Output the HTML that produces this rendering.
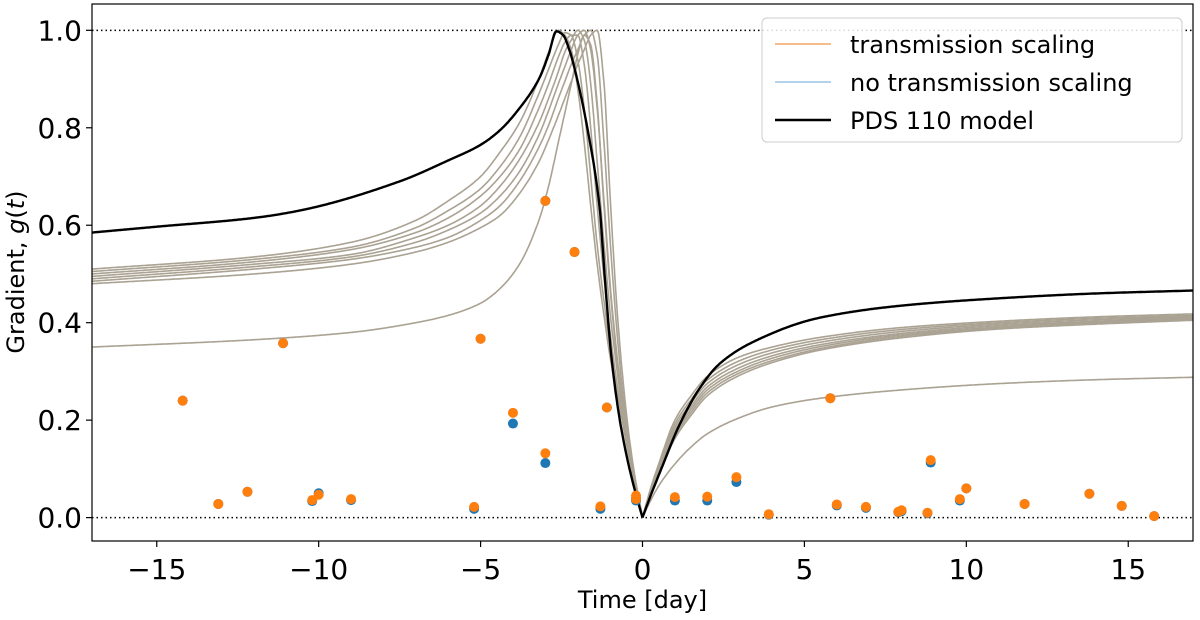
<!DOCTYPE html>
<html><head><meta charset="utf-8"><style>
body{margin:0;background:#fff;font-family:"DejaVu Sans","Liberation Sans",sans-serif}
svg text{font-family:"DejaVu Sans","Liberation Sans",sans-serif}
</style></head><body>
<svg id="c" width="1200" height="616"></svg>
<script>
const xTicks=[-15,-10,-5,0,5,10,15];
const xTickLabels=["\u221215","\u221210","\u22125","0","5","10","15"];
const yTicks=[0,0.2,0.4,0.6,0.8,1.0];
const yTickLabels=["0.0","0.2","0.4","0.6","0.8","1.0"];
const modelT=[-17,-15,-12,-10.6,-7.5,-6,-5,-4.4,-3.8,-3.2,-2.9,-2.66,-2.45,-2.26,-1.95,-1.65,-1.33,-1.15,-0.96,-0.7,-0.4,-0.15,0,0.25,0.52,1.14,1.76,2.37,3.4,5.46,8,11,14,17];
const modelG=[0.585,0.597,0.615,0.63,0.69,0.733,0.765,0.795,0.84,0.90,0.95,0.998,0.99,0.96,0.88,0.78,0.64,0.48,0.33,0.2,0.1,0.035,0.0,0.045,0.09,0.19,0.265,0.315,0.36,0.41,0.435,0.45,0.46,0.466];
const grayLeftT=[-17,-12,-9,-7,-6,-5,-4.4,-3.8,-3.2,-2.9,-2.6,-2.4,-2.2,-2.0,-1.8,-1.6,-1.4,-1.2,-1.0,-0.8,-0.6,-0.4,-0.2,0];
const grayRightT=[0,0.25,0.5,1,1.5,2,3,4,5.5,8,11,14,17];
const grayLeftG=[
[.51,.535,.565,.61,.65,.70,.75,.81,.9,.955,1.0,.99,.96,.88,.77,.64,.52,.42,.33,.26,.19,.12,.06,0],
[.505,.53,.555,.595,.63,.675,.72,.78,.87,.92,.97,.995,.99,.94,.84,.7,.56,.45,.35,.27,.19,.12,.06,0],
[.50,.525,.55,.585,.615,.66,.70,.755,.84,.89,.945,.975,.99,.99,.93,.8,.64,.5,.38,.28,.2,.13,.06,0],
[.495,.52,.54,.575,.60,.64,.68,.735,.81,.86,.915,.955,.98,1.0,.98,.89,.73,.57,.42,.31,.21,.13,.065,0],
[.49,.515,.535,.565,.59,.625,.66,.71,.785,.835,.89,.925,.96,.99,1.0,.96,.84,.66,.48,.34,.23,.14,.07,0],
[.485,.51,.53,.555,.575,.61,.64,.69,.76,.805,.86,.895,.93,.96,.99,1.0,.95,.78,.57,.39,.25,.15,.07,0],
[.48,.50,.52,.545,.565,.595,.62,.665,.73,.775,.825,.86,.895,.93,.96,.99,1.0,.9,.66,.44,.28,.16,.07,0],
[.35,.365,.38,.40,.415,.44,.47,.52,.61,.68,.77,.83,.89,.95,.99,.97,.85,.65,.47,.33,.22,.13,.06,0]];
const grayRightG=[
[0,.06,.11,.2,.25,.29,.33,.35,.37,.39,.403,.412,.418],
[0,.058,.105,.192,.242,.282,.322,.344,.365,.386,.4,.409,.415],
[0,.055,.1,.185,.235,.275,.315,.338,.36,.382,.397,.406,.413],
[0,.053,.097,.178,.228,.268,.308,.332,.355,.378,.394,.403,.411],
[0,.051,.093,.172,.222,.262,.302,.327,.351,.375,.391,.401,.409],
[0,.049,.09,.167,.216,.256,.297,.322,.347,.372,.389,.399,.407],
[0,.047,.087,.162,.21,.25,.292,.318,.344,.369,.387,.397,.405],
[0,.035,.065,.11,.145,.172,.205,.227,.245,.262,.275,.283,.288]];
const orangeT=[-14.2,-13.1,-12.2,-11.1,-10.2,-10.0,-9.0,-5.2,-5.0,-4.0,-3.0,-3.0,-2.1,-1.3,-1.1,-0.2,-0.2,1.0,2.0,2.9,3.9,5.8,6.0,6.9,7.9,8.0,8.8,8.9,9.8,10.0,11.8,13.8,14.8,15.8];
const orangeG=[0.24,0.028,0.053,0.358,0.036,0.047,0.038,0.022,0.367,0.215,0.65,0.132,0.545,0.023,0.226,0.045,0.038,0.042,0.043,0.083,0.007,0.245,0.027,0.022,0.012,0.015,0.01,0.118,0.038,0.06,0.028,0.049,0.024,0.003];
const blueG=[0.24,0.028,0.053,0.358,0.034,0.05,0.036,0.018,0.367,0.193,0.65,0.112,0.545,0.018,0.226,0.04,0.035,0.035,0.035,0.073,0.006,0.245,0.025,0.02,0.011,0.013,0.009,0.113,0.035,0.06,0.028,0.049,0.024,0.003];

const L=92,R=1193,T=4,B=541,X0=-17,X1=17,Y0=-0.048,Y1=1.054;
const sx=t=>L+(t-X0)/(X1-X0)*(R-L);
const sy=g=>B-(g-Y0)/(Y1-Y0)*(B-T);
const NS="http://www.w3.org/2000/svg",svg=document.getElementById('c');
function mk(tag,at,parent){const e=document.createElementNS(NS,tag);for(const k in at)e.setAttribute(k,at[k]);(parent||svg).appendChild(e);return e;}
function mono(xs,ys){const n=xs.length,d=[],m=new Array(n);
for(let i=0;i<n-1;i++)d.push((ys[i+1]-ys[i])/(xs[i+1]-xs[i]));
m[0]=d[0];m[n-1]=d[n-2];
for(let i=1;i<n-1;i++){if(d[i-1]*d[i]<=0)m[i]=0;else{const w1=2*(xs[i+1]-xs[i])+(xs[i]-xs[i-1]),w2=(xs[i+1]-xs[i])+2*(xs[i]-xs[i-1]);m[i]=(w1+w2)/(w1/d[i-1]+w2/d[i]);}}
let pts=[];
for(let i=0;i<n-1;i++){const h=xs[i+1]-xs[i],N=Math.max(4,Math.ceil(h*40));
for(let k=0;k<N;k++){const s=k/N,h00=2*s*s*s-3*s*s+1,h10=s*s*s-2*s*s+s,h01=-2*s*s*s+3*s*s,h11=s*s*s-s*s;
const y=h00*ys[i]+h10*h*m[i]+h01*ys[i+1]+h11*h*m[i+1];pts.push(sx(xs[i]+s*h).toFixed(1)+","+sy(y).toFixed(1));}}
pts.push(sx(xs[n-1]).toFixed(1)+","+sy(ys[n-1]).toFixed(1));
return "M"+pts.join(" L");}
const clip=mk('clipPath',{id:'cp'});mk('rect',{x:L,y:T,width:R-L,height:B-T},clip);
const plot=mk('g',{'clip-path':'url(#cp)'});

[0,1].forEach(v=>{const l=mk('line',{x1:L,x2:R,y1:sy(v),y2:sy(v),stroke:'#000','stroke-width':1.5,'stroke-dasharray':'1.5,3'},plot);
});
grayLeftG.forEach((g,i)=>{const p=mk('path',{d:mono(grayLeftT,g)+" "+mono(grayRightT,grayRightG[i]),fill:'none',stroke:'#aaa292','stroke-width':1.6},plot);
});
const zi=modelT.indexOf(0);
const m=mk('path',{d:mono(modelT.slice(0,zi+1),modelG.slice(0,zi+1))+" "+mono(modelT.slice(zi),modelG.slice(zi)),fill:'none',stroke:'#000','stroke-width':2.4},plot);

orangeT.forEach((t,i)=>{const c=mk('circle',{cx:sx(t),cy:sy(blueG[i]),r:5,fill:'#1f77b4'},plot);
});
orangeT.forEach((t,i)=>{const c=mk('circle',{cx:sx(t),cy:sy(orangeG[i]),r:5,fill:'#ff7f0e'},plot);
});
const fr=mk('rect',{x:L,y:T,width:R-L,height:B-T,fill:'none',stroke:'#000','stroke-width':1.2});

xTicks.forEach((v,i)=>{mk('line',{x1:sx(v),x2:sx(v),y1:B,y2:B+6,stroke:'#000','stroke-width':1.2});
const t=mk('text',{x:sx(v),y:B+38,'text-anchor':'middle','font-size':28});t.textContent=xTickLabels[i];
});
yTicks.forEach((v,i)=>{mk('line',{x1:L-6,x2:L,y1:sy(v),y2:sy(v),stroke:'#000','stroke-width':1.2});
const t=mk('text',{x:L-10,y:sy(v)+10,'text-anchor':'end','font-size':28});t.textContent=yTickLabels[i];
});
const xl=mk('text',{x:(L+R)/2,y:608,'text-anchor':'middle','font-size':24});xl.textContent='Time [day]';

const yl=mk('text',{x:0,y:0,transform:'translate(24,272) rotate(-90)','text-anchor':'middle','font-size':24});
yl.innerHTML='Gradient, <tspan font-style="italic">g</tspan>(<tspan font-style="italic">t</tspan>)';

const lg=mk('g',{});
mk('rect',{x:762,y:18,width:420,height:124,rx:5,fill:'#fff','fill-opacity':0.85,stroke:'#ccc'},lg);
[['transmission scaling','#f4b27a',1.8],['no transmission scaling','#a9cbe6',1.8],['PDS 110 model','#000',2.4]].forEach((e,i)=>{
const y=44+i*38;mk('line',{x1:775,x2:831,y1:y,y2:y,stroke:e[1],'stroke-width':e[2]},lg);
const t=mk('text',{x:850,y:y+9,'font-size':24},lg);t.textContent=e[0];
});
</script>
</body></html>
